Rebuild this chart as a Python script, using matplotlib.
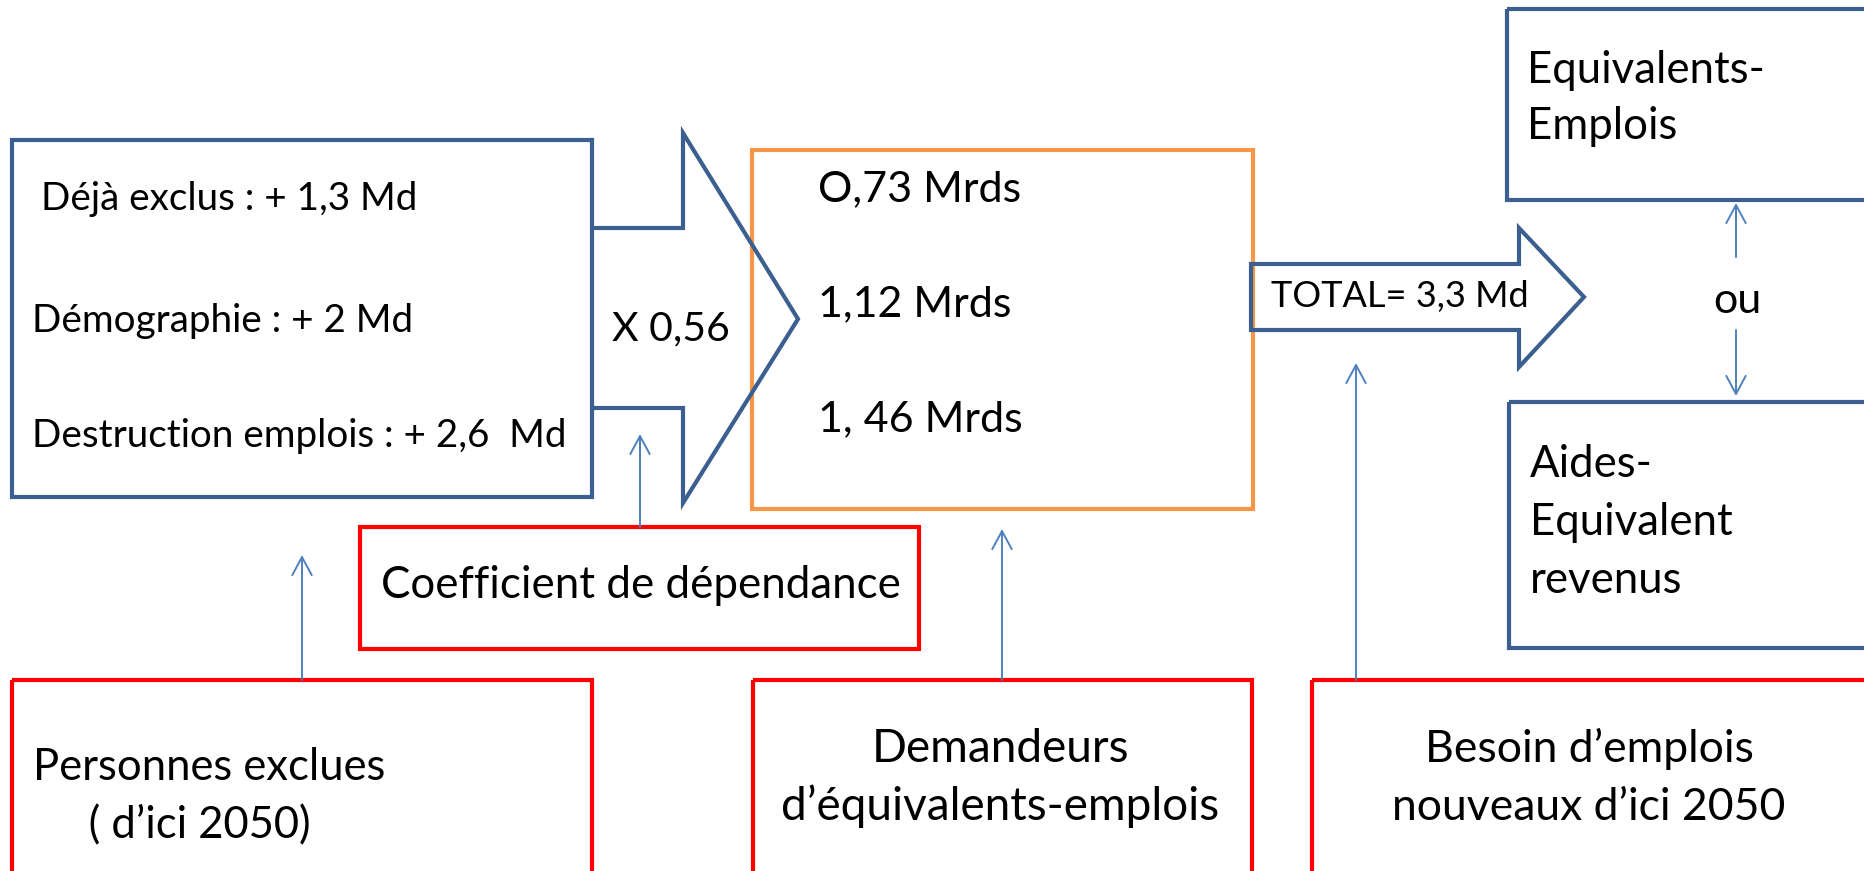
import matplotlib
matplotlib.use("Agg")
import matplotlib.pyplot as plt
from matplotlib.patches import Rectangle, Polygon

plt.rcParams['font.family'] = ['Lato', 'DejaVu Sans']

# texts of the diagram
sources = ["Déjà exclus : + 1,3 Md", "Démographie : + 2 Md", "Destruction emplois : + 2,6  Md"]
coef_label = "X 0,56"
results = ["O,73 Mrds", "1,12 Mrds", "1, 46 Mrds"]
total_label = "TOTAL= 3,3 Md"
option_top = ["Equivalents-", "Emplois"]
option_bottom = ["Aides-", "Equivalent", "revenus"]
notes = ["Coefficient de dépendance",
         ["Personnes exclues", "     ( d\u2019ici 2050)"],
         ["Demandeurs", "d\u2019équivalents-emplois"],
         ["Besoin d\u2019emplois", "nouveaux d\u2019ici 2050"]]

BLUE = "#3B5F8E"
THIN = "#4F81BD"
ORANGE = "#F79646"
RED = "#FF0000"

fig = plt.figure(figsize=(18.64, 8.71), dpi=100)
ax = fig.add_axes([0, 0, 1, 1])
ax.set_xlim(0, 1864)
ax.set_ylim(871, 0)
ax.axis('off')

def box(x0, y0, x1, y1, color, lw=3, z=2):
    ax.add_patch(Rectangle((x0, y0), x1 - x0, y1 - y0, fill=False, ec=color, lw=lw,
                           joinstyle='miter', zorder=z))

def up_arrow(x, y0, y1):
    ax.annotate("", xy=(x, y1), xytext=(x, y0),
                arrowprops=dict(arrowstyle='->,head_length=0.65,head_width=0.35',
                                color=THIN, lw=1.4, mutation_scale=20,
                                shrinkA=0, shrinkB=0), zorder=3)

# left box + big arrow
box(12, 140, 592, 497, BLUE)
ax.add_patch(Polygon([(592, 228), (683, 228), (683, 133), (798, 319), (683, 503),
                      (683, 408), (592, 408)], closed=False, fill=False, ec=BLUE, lw=3,
                     joinstyle='miter', zorder=3))
for s, yb, x in zip(sources, [210, 332, 447], [41, 32, 32]):
    ax.text(x, yb, s, fontsize=27.8, va='baseline', ha='left')
ax.text(612, 340, coef_label, fontsize=29.5, va='baseline', ha='left')

# orange box
box(752, 150, 1253, 509, ORANGE)
for s, yb in zip(results, [201, 316, 431]):
    ax.text(818, yb, s, fontsize=31, va='baseline', ha='left')

# total arrow
ax.add_patch(Polygon([(1251, 264), (1519, 264), (1519, 228), (1584, 297), (1519, 367),
                      (1519, 330), (1251, 330)], closed=True, fill=False, ec=BLUE, lw=3,
                     joinstyle='miter', zorder=3))
ax.text(1271, 307, total_label, fontsize=26, va='baseline', ha='left')

# right boxes
box(1507, 9, 1950, 200, BLUE)
for s, yb in zip(option_top, [83, 139]):
    ax.text(1527, yb, s, fontsize=31.5, va='baseline', ha='left')
box(1509, 402, 1950, 648, BLUE)
for s, yb in zip(option_bottom, [477, 535, 593]):
    ax.text(1530, yb, s, fontsize=31.5, va='baseline', ha='left')
ax.text(1737, 313, "ou", fontsize=31, va='baseline', ha='center')
up_arrow(1736, 257, 203)
up_arrow(1736, 330, 396)

# red note boxes
box(360, 527, 919, 649, RED)
ax.text(381, 598, notes[0], fontsize=31.6, va='baseline', ha='left')
box(12, 680, 592, 950, RED)
for s, yb in zip(notes[1], [780, 838]):
    ax.text(33, yb, s, fontsize=31.4, va='baseline', ha='left')
box(753, 680, 1252, 950, RED)
for s, yb in zip(notes[2], [762, 820]):
    ax.text(1000, yb, s, fontsize=33, va='baseline', ha='center')
box(1312, 680, 1950, 950, RED)
for s, yb in zip(notes[3], [762, 820]):
    ax.text(1589, yb, s, fontsize=32, va='baseline', ha='center')

up_arrow(302, 680, 555)
up_arrow(640, 527, 434)
up_arrow(1002, 680, 529)
up_arrow(1356, 680, 363)

fig.savefig("out.png", dpi=100)
